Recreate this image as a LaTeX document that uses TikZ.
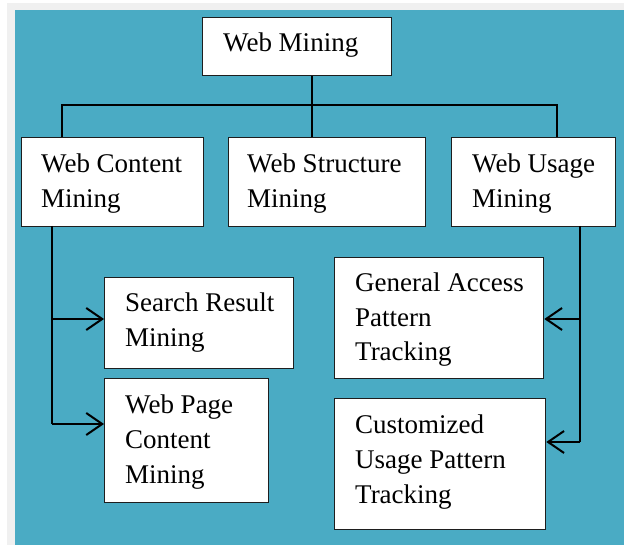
\documentclass[tikz,border=0pt]{standalone}
\usepackage{fontspec}
\setmainfont{Liberation Serif}
\usetikzlibrary{arrows.meta}
\definecolor{panel}{HTML}{4AABC4}
\definecolor{margin}{HTML}{F0F0F0}
\definecolor{edge}{HTML}{1E1E1E}
\begin{document}
\begin{tikzpicture}[x=1pt,y=-1pt,
  box/.style={draw=edge,line width=1.3pt,fill=white,inner sep=0pt,anchor=north west},
  lbl/.style={align=left,inner sep=0pt,anchor=base west,font=\fontsize{27}{35}\selectfont},
  link/.style={draw=black,line width=2pt},
  feed/.style={link,-{Straight Barb[length=16pt,width=22pt,line width=2pt]}}]
\useasboundingbox (0,0) rectangle (624,545);
% page background and coloured panel
\fill[white] (0,0) rectangle (624,545);
\fill[margin] (7,3) rectangle (624,545);
\fill[panel] (15,10) rectangle (624,545);

% boxes
\node[box,minimum width=189,minimum height=58] (wm) at (202,17) {};
\node[box,minimum width=182,minimum height=89] (wc) at (21,137) {};
\node[box,minimum width=197,minimum height=89] (ws) at (228,137) {};
\node[box,minimum width=164,minimum height=89] (wu) at (451,137) {};
\node[box,minimum width=189,minimum height=91] (sr) at (104,277) {};
\node[box,minimum width=164,minimum height=124] (wp) at (104,378) {};
\node[box,minimum width=209,minimum height=121] (ga) at (334,257) {};
\node[box,minimum width=211,minimum height=131] (cu) at (334,398) {};

% labels (anchored on the baseline of their last line)
\node[lbl] (wmt) at (223,52) {Web Mining};
\node[lbl] (wct) at (41,208) {Web Content\\Mining};
\node[lbl] (wst) at (247,208) {Web Structure\\Mining};
\node[lbl] (wut) at (472,208) {Web Usage\\Mining};
\node[lbl] (srt) at (125,347) {Search Result\\Mining};
\node[lbl] (wpt) at (125,483) {Web Page\\Content\\Mining};
\node[lbl] (gat) at (355,361) {General Access\\Pattern\\Tracking};
\node[lbl] (cut) at (355,503) {Customized\\Usage Pattern\\Tracking};

% tree connectors
\coordinate (busL) at (62,105);
\coordinate (busM) at (312,105);
\coordinate (busR) at (557,105);
\draw[link] (wm.south -| busM) -- (ws.north -| busM);
\draw[link] (wc.north -| busL) |- (busR) -- (wu.north -| busR);

% left branch
\coordinate (lTop) at (52,226);
\coordinate (lA) at (52,319);
\coordinate (lB) at (52,424);
\draw[link] (lTop) -- (lB);
\draw[feed] (lA) -- (sr.west |- lA);
\draw[feed] (lB) -- (wp.west |- lB);

% right branch
\coordinate (rTop) at (580,226);
\coordinate (rA) at (580,319);
\coordinate (rB) at (580,442);
\draw[link] (rTop) -- (rB);
\draw[feed] (rA) -- (ga.east |- rA);
\draw[feed] (rB) -- (cu.east |- rB);
\end{tikzpicture}
\end{document}
